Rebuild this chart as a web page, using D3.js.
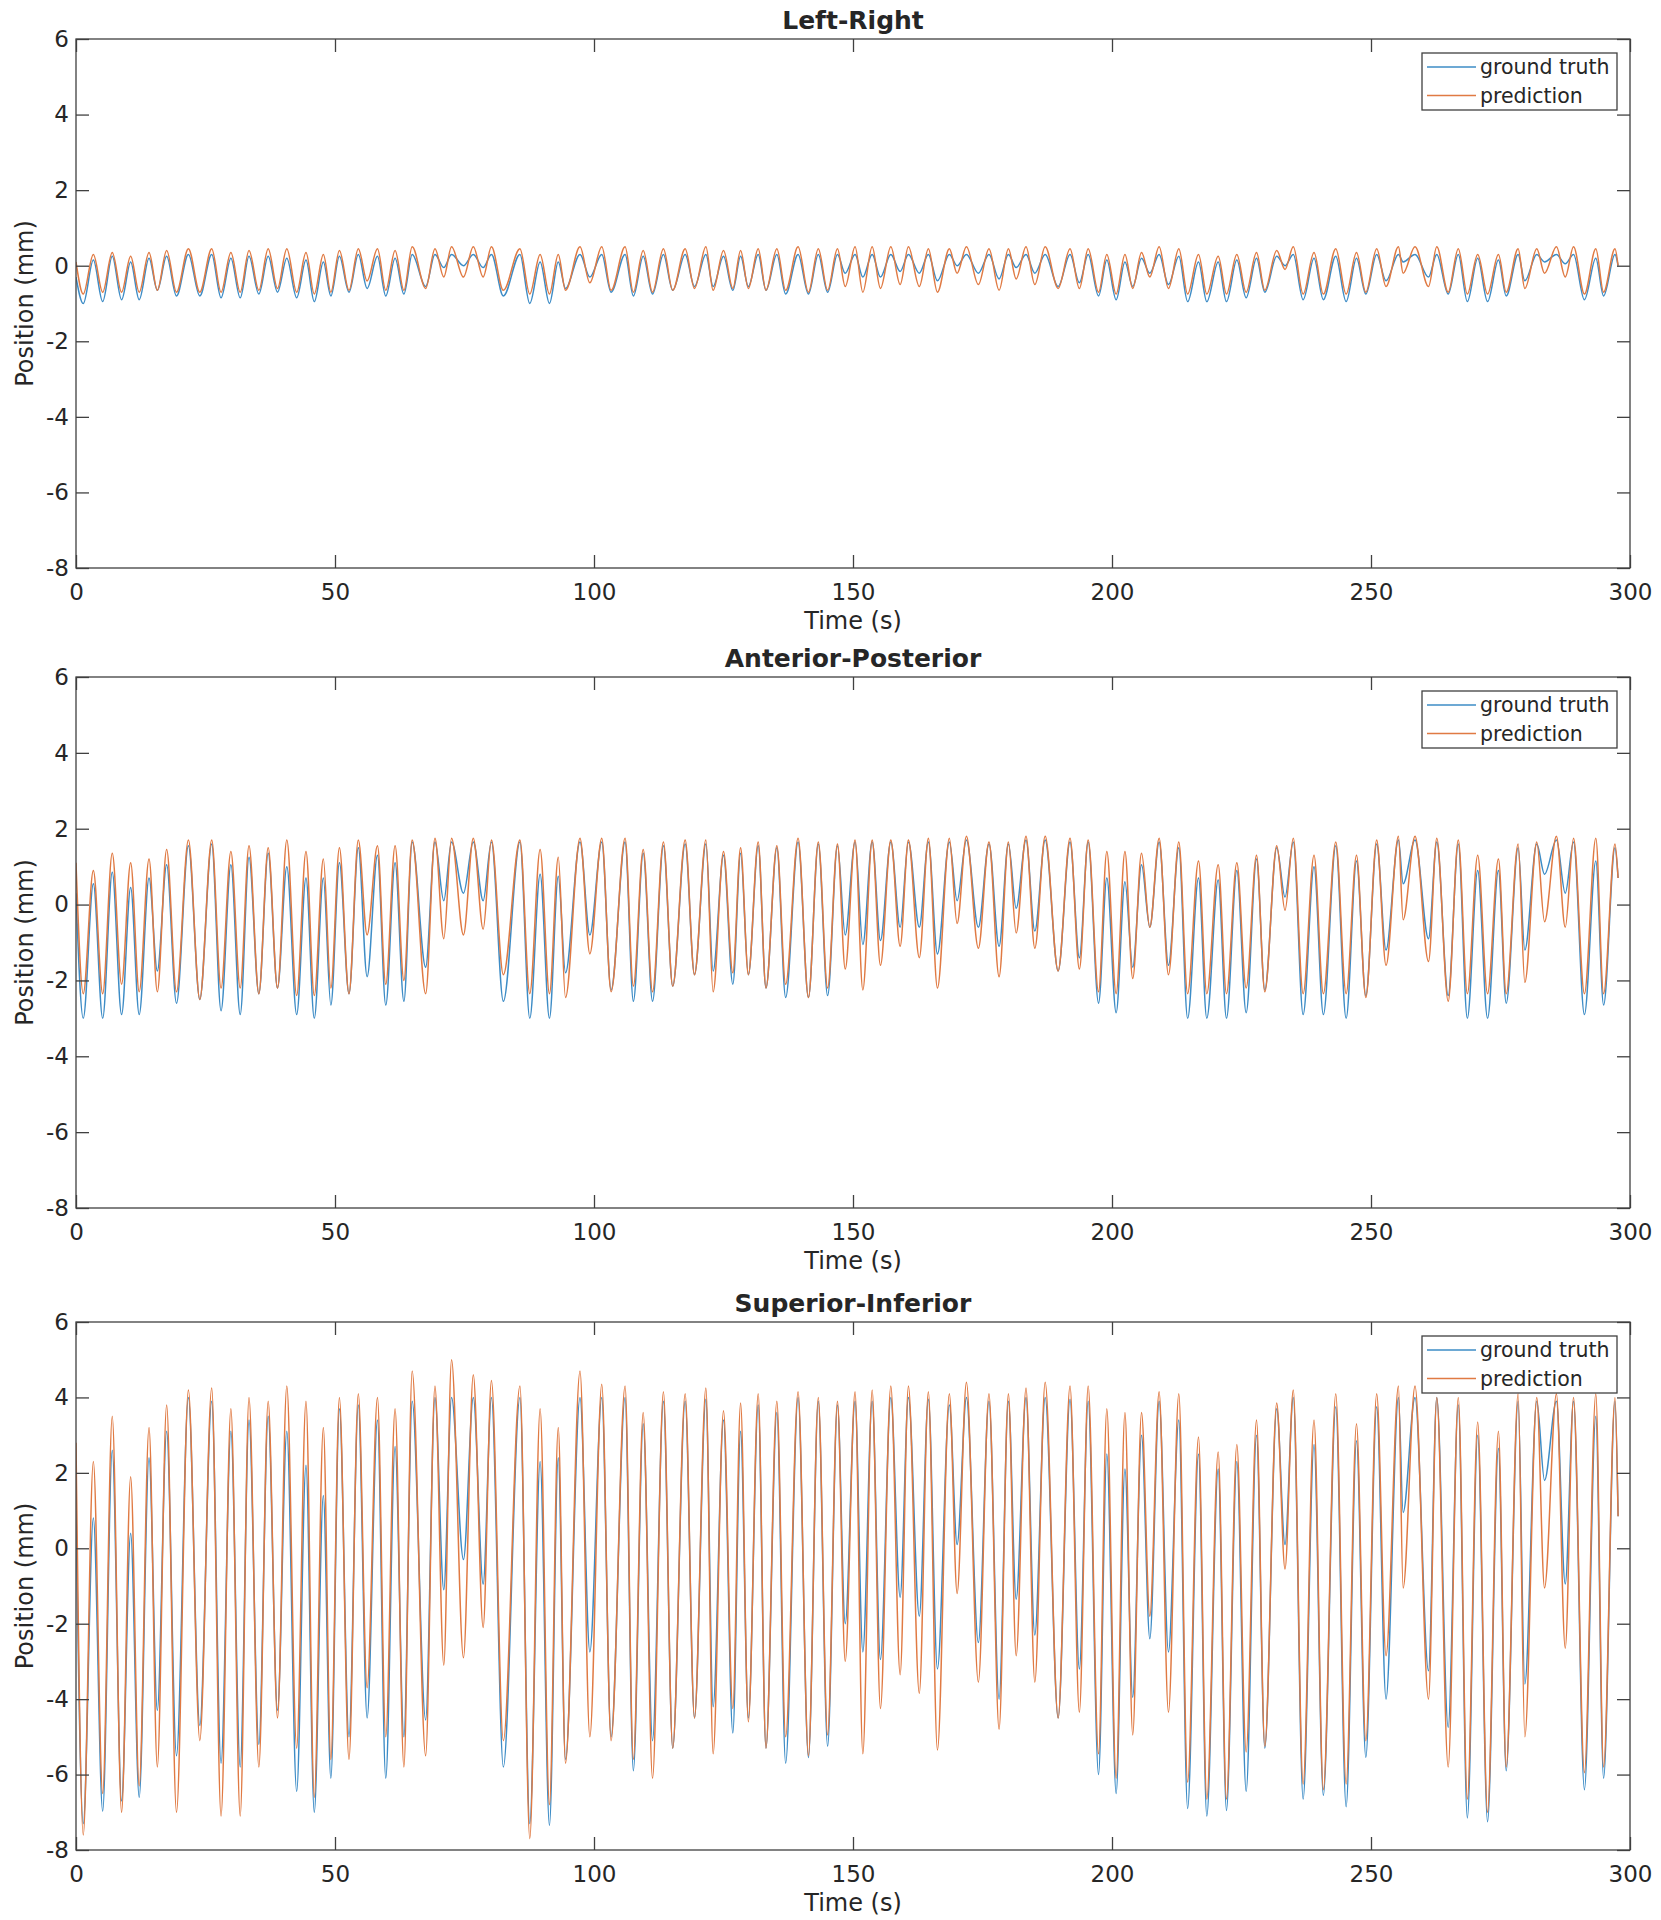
<!DOCTYPE html>
<html><head><meta charset="utf-8">
<script src="https://cdn.jsdelivr.net/npm/d3@7"></script>
<style>
body{margin:0;background:#fff}
svg{display:block}
text{font-family:"DejaVu Sans",sans-serif;fill:#262626}
</style>
</head><body>
<svg id="c" width="1661" height="1920"></svg>
<script>
// ---------- data ----------
const xTicks = [0, 50, 100, 150, 200, 250, 300];
const yTicks = [-8, -6, -4, -2, 0, 2, 4, 6];
const seriesNames = ["ground truth", "prediction"];
const panelTitles = ["Left-Right", "Anterior-Posterior", "Superior-Inferior"];

// time (s) of each breathing minimum and maximum
const troughTime = [1.4,5.15,8.8,12.2,15.7,19.4,23.9,28.0,31.7,35.3,38.9,42.6,46.0,49.2,52.7,56.2,59.8,63.3,67.5,71.0,74.8,78.6,82.5,87.6,91.4,94.5,99.2,103.3,107.6,111.3,115.2,119.4,123.0,126.8,129.8,133.2,137.0,141.4,145.1,148.5,151.9,155.3,159.1,162.8,166.3,170.1,174.2,178.2,181.5,185.1,189.6,193.7,197.4,200.8,204.0,207.3,210.9,214.6,218.3,222.1,225.9,229.5,233.4,236.9,240.8,245.2,249.0,252.9,256.2,261.1,264.9,268.6,272.5,276.1,279.7,283.5,287.5,291.2,294.9];
const peakTime = [3.35,7.0,10.55,14.1,17.5,21.7,26.2,29.9,33.4,37.1,40.7,44.4,47.75,50.85,54.5,58.2,61.6,64.9,69.3,72.5,76.7,80.2,85.7,89.6,93.1,97.3,101.5,106.0,109.5,113.4,117.6,121.6,125.0,128.3,131.7,135.3,139.4,143.3,147.0,150.4,153.7,157.3,160.7,164.55,168.6,171.9,176.25,180.0,183.4,187.1,191.9,195.4,199.0,202.5,205.7,209.1,212.9,216.7,220.5,224.1,227.9,231.8,235.0,239.0,243.2,247.2,251.1,255.3,258.5,262.7,266.85,270.6,274.6,278.4,282.0,285.8,289.1,293.4,297.1];
const startTime = 0, endTime = 297.7;

// Left-Right (mm)
const lrGtTrough = [-1.0,-0.95,-0.9,-0.9,-0.65,-0.8,-0.8,-0.85,-0.85,-0.75,-0.7,-0.85,-0.95,-0.8,-0.7,-0.6,-0.8,-0.75,-0.55,-0.05,0.0,-0.05,-0.8,-1.0,-1.0,-0.6,-0.3,-0.7,-0.8,-0.75,-0.65,-0.55,-0.55,-0.65,-0.55,-0.65,-0.75,-0.75,-0.7,-0.2,-0.3,-0.3,-0.15,-0.2,-0.4,0.0,-0.2,-0.35,-0.05,-0.2,-0.55,-0.45,-0.8,-0.9,-0.55,-0.2,-0.5,-0.95,-0.95,-0.95,-0.85,-0.7,0.0,-0.9,-0.9,-0.95,-0.75,-0.4,0.1,-0.3,-0.75,-0.95,-0.95,-0.8,-0.4,0.1,0.05,-0.9,-0.8];
const lrPrTrough = [-0.75,-0.7,-0.7,-0.7,-0.65,-0.7,-0.7,-0.7,-0.7,-0.65,-0.6,-0.7,-0.75,-0.7,-0.65,-0.4,-0.65,-0.65,-0.6,-0.3,-0.3,-0.3,-0.65,-0.75,-0.75,-0.65,-0.45,-0.65,-0.7,-0.7,-0.65,-0.6,-0.65,-0.6,-0.6,-0.65,-0.65,-0.7,-0.65,-0.55,-0.7,-0.6,-0.5,-0.55,-0.7,-0.2,-0.5,-0.65,-0.35,-0.5,-0.6,-0.6,-0.7,-0.75,-0.6,-0.3,-0.6,-0.75,-0.75,-0.75,-0.7,-0.65,-0.1,-0.75,-0.75,-0.75,-0.7,-0.55,-0.2,-0.55,-0.7,-0.75,-0.75,-0.7,-0.6,-0.2,-0.3,-0.75,-0.7];
const lrGtPeak = [0.15,0.25,0.1,0.2,0.25,0.3,0.3,0.2,0.25,0.25,0.2,0.15,0.1,0.25,0.3,0.25,0.2,0.3,0.3,0.3,0.3,0.3,0.3,0.1,0.1,0.3,0.3,0.3,0.25,0.3,0.3,0.3,0.25,0.25,0.3,0.3,0.3,0.3,0.3,0.3,0.3,0.3,0.3,0.3,0.3,0.3,0.3,0.3,0.3,0.3,0.3,0.3,0.15,0.1,0.2,0.3,0.25,0.1,0.1,0.15,0.2,0.25,0.3,0.2,0.25,0.2,0.3,0.3,0.3,0.3,0.3,0.2,0.15,0.3,0.3,0.3,0.3,0.2,0.3];
const lrPrPeak = [0.3,0.35,0.25,0.35,0.4,0.45,0.45,0.35,0.4,0.45,0.45,0.35,0.3,0.4,0.45,0.45,0.4,0.5,0.45,0.5,0.5,0.5,0.45,0.3,0.3,0.5,0.5,0.5,0.4,0.45,0.45,0.5,0.4,0.4,0.45,0.45,0.5,0.45,0.45,0.5,0.5,0.5,0.5,0.45,0.45,0.5,0.45,0.45,0.5,0.5,0.45,0.45,0.3,0.3,0.35,0.5,0.45,0.3,0.25,0.3,0.35,0.4,0.5,0.35,0.45,0.35,0.45,0.5,0.5,0.5,0.45,0.3,0.3,0.45,0.45,0.5,0.5,0.45,0.45];
const lrStart = [-0.3, 0.1], lrEnd = [0.0, 0.0];

// Anterior-Posterior (mm)
const apGtTrough = [-3.0,-3.0,-2.9,-2.9,-1.75,-2.6,-2.5,-2.8,-2.9,-2.35,-2.2,-2.9,-3.0,-2.65,-2.35,-1.9,-2.65,-2.55,-1.65,0.1,0.3,0.1,-2.55,-3.0,-3.0,-1.8,-0.8,-2.25,-2.55,-2.55,-2.15,-1.85,-1.75,-2.1,-1.85,-2.2,-2.45,-2.45,-2.4,-0.8,-1.05,-0.95,-0.6,-0.6,-1.3,0.1,-0.6,-1.1,-0.1,-0.7,-1.75,-1.4,-2.6,-2.85,-1.65,-0.6,-1.6,-3.0,-3.0,-3.0,-2.85,-2.25,0.2,-2.9,-2.9,-3.0,-2.4,-1.2,0.55,-0.9,-2.4,-3.0,-3.0,-2.6,-1.2,0.8,0.3,-2.9,-2.65];
const apPrTrough = [-2.35,-2.35,-2.1,-2.3,-2.3,-2.3,-2.5,-2.2,-2.2,-2.35,-2.2,-2.4,-2.4,-2.2,-2.35,-0.8,-2.1,-2.0,-2.35,-0.9,-0.8,-0.65,-1.85,-2.35,-2.35,-2.45,-1.3,-2.3,-2.15,-2.3,-2.15,-1.85,-2.3,-1.8,-1.85,-2.2,-2.1,-2.45,-2.2,-1.7,-2.25,-1.6,-1.1,-1.4,-2.2,-0.5,-1.15,-1.9,-0.75,-1.15,-1.75,-1.7,-2.3,-2.35,-1.95,-0.6,-1.85,-2.35,-2.35,-2.35,-2.2,-2.3,-0.15,-2.35,-2.35,-2.35,-2.45,-1.6,-0.4,-1.5,-2.55,-2.35,-2.35,-2.35,-2.05,-0.45,-0.6,-2.35,-2.35];
const apGtPeak = [0.55,0.85,0.45,0.7,1.05,1.55,1.6,1.05,1.25,1.35,1.0,0.7,0.7,1.1,1.5,1.3,1.1,1.65,1.65,1.65,1.65,1.65,1.65,0.8,0.75,1.65,1.65,1.65,1.35,1.55,1.6,1.6,1.3,1.35,1.55,1.5,1.65,1.6,1.55,1.65,1.65,1.65,1.65,1.65,1.65,1.7,1.6,1.6,1.7,1.7,1.65,1.65,0.7,0.6,1.05,1.65,1.5,0.7,0.65,0.9,1.2,1.5,1.65,1.0,1.55,1.15,1.6,1.7,1.7,1.65,1.6,0.9,0.9,1.5,1.6,1.7,1.65,1.15,1.5];
const apPrPeak = [0.9,1.35,1.1,1.2,1.45,1.7,1.7,1.4,1.55,1.5,1.7,1.4,1.2,1.5,1.7,1.55,1.55,1.7,1.75,1.75,1.75,1.7,1.7,1.45,1.25,1.75,1.75,1.75,1.45,1.65,1.7,1.7,1.4,1.5,1.65,1.55,1.75,1.65,1.6,1.7,1.7,1.7,1.7,1.75,1.75,1.8,1.65,1.65,1.8,1.8,1.75,1.7,1.4,1.4,1.35,1.75,1.65,1.15,1.05,1.1,1.3,1.55,1.75,1.3,1.65,1.3,1.7,1.8,1.8,1.75,1.7,1.3,1.2,1.6,1.65,1.8,1.75,1.75,1.6];
const apStart = [0.3, 1.1], apEnd = [0.7, 0.7];

// Superior-Inferior (mm)
const siGtTrough = [-7.3,-6.97,-6.7,-6.6,-4.3,-5.5,-4.7,-5.7,-5.8,-5.2,-4.3,-6.45,-7.0,-6.1,-5.0,-4.5,-6.1,-5.0,-4.55,-1.1,-0.3,-0.95,-5.8,-7.3,-7.35,-5.6,-2.75,-5.0,-5.9,-5.1,-5.3,-4.5,-4.2,-4.9,-4.5,-5.3,-5.7,-5.55,-5.25,-2.0,-2.75,-2.95,-1.3,-1.8,-3.2,0.1,-2.5,-4.0,-1.35,-2.3,-4.5,-3.2,-6.0,-6.5,-3.95,-2.4,-2.75,-6.9,-7.1,-6.95,-6.45,-5.3,0.1,-6.65,-6.55,-6.85,-5.55,-4.0,0.95,-3.25,-4.75,-7.15,-7.25,-5.9,-3.6,1.8,-0.95,-6.4,-6.1];
const siPrTrough = [-7.6,-6.5,-7.0,-6.3,-5.8,-7.0,-5.1,-7.1,-7.1,-5.8,-4.5,-5.3,-6.6,-5.6,-5.6,-3.7,-5.0,-5.8,-5.5,-3.1,-2.9,-2.1,-5.1,-7.7,-6.8,-5.7,-5.0,-5.1,-5.6,-6.1,-5.3,-4.5,-5.45,-4.25,-4.6,-5.3,-5.0,-5.5,-4.95,-3.0,-5.45,-4.25,-3.35,-3.85,-5.35,-1.2,-3.55,-4.8,-2.85,-3.55,-4.5,-4.35,-5.45,-6.1,-4.95,-1.8,-4.35,-6.2,-6.65,-6.65,-5.4,-5.25,-0.55,-6.25,-6.4,-6.25,-5.1,-2.85,-1.05,-4.0,-5.8,-6.65,-7.0,-5.8,-5.0,-1.05,-2.65,-5.95,-5.8];
const siGtPeak = [0.8,2.6,0.4,2.4,3.1,4.0,3.9,3.1,3.4,3.5,3.1,2.2,1.4,3.7,3.8,3.4,2.7,3.9,4.0,4.0,4.0,4.0,4.0,2.3,2.4,4.0,4.0,4.0,3.3,3.9,3.9,3.95,3.4,3.1,3.8,3.6,4.0,3.9,3.8,3.9,3.9,4.0,4.0,3.95,3.8,4.0,3.9,3.9,4.0,4.0,3.95,3.9,2.5,2.1,3.0,3.9,3.4,2.5,2.1,2.3,3.0,3.7,4.0,2.75,3.75,2.85,3.75,4.0,4.0,4.0,3.8,3.0,2.65,3.9,3.9,3.9,3.9,3.5,3.9];
const siPrPeak = [2.3,3.5,1.9,3.2,3.8,4.2,4.25,3.7,4.0,3.9,4.3,3.9,3.2,4.0,4.1,4.0,3.7,4.7,4.3,5.0,4.6,4.45,4.3,3.7,3.2,4.7,4.35,4.3,3.6,4.15,4.1,4.25,3.65,3.85,4.1,3.9,4.15,4.0,3.9,4.15,4.2,4.3,4.3,4.15,4.1,4.4,4.1,4.1,4.25,4.4,4.3,4.3,3.7,3.6,3.6,4.15,4.1,2.95,2.55,2.75,3.4,3.85,4.2,3.4,4.1,3.3,4.1,4.3,4.3,4.0,4.0,3.35,3.1,4.1,4.0,4.1,4.0,4.1,4.0];
const siStart = [1.0, 2.8], siEnd = [0.85, 0.85];

// ---------- drawing ----------
const left = 76, right = 1630;
const colors = ["#3d8cc6", "#e07a43"];
const svg = d3.select("#c");
const x = d3.scaleLinear().domain([0, 300]).range([left, right]);
const fmt = d => String(d);   // plain hyphen-minus like the reference

const panels = [
  {title: panelTitles[0], top: 39, bottom: 568,
   troughs: [lrGtTrough, lrPrTrough], peaks: [lrGtPeak, lrPrPeak], start: lrStart, end: lrEnd},
  {title: panelTitles[1], top: 677, bottom: 1208,
   troughs: [apGtTrough, apPrTrough], peaks: [apGtPeak, apPrPeak], start: apStart, end: apEnd},
  {title: panelTitles[2], top: 1322, bottom: 1850,
   troughs: [siGtTrough, siPrTrough], peaks: [siGtPeak, siPrPeak], start: siStart, end: siEnd}
];

function buildSeries(p, s) {
  const pts = [[startTime, p.start[s]]];
  for (let i = 0; i < troughTime.length; i++) {
    pts.push([troughTime[i], p.troughs[s][i]]);
    pts.push([peakTime[i], p.peaks[s][i]]);
  }
  pts.push([endTime, p.end[s]]);
  return pts;
}

panels.forEach((p, pi) => {
  const y = d3.scaleLinear().domain([-8, 6]).range([p.bottom, p.top]);
  const g = svg.append("g");
  const clipId = "clip" + pi;
  svg.append("clipPath").attr("id", clipId).append("rect")
    .attr("x", left).attr("y", p.top).attr("width", right - left).attr("height", p.bottom - p.top);

  const line = d3.line().x(d => x(d[0])).y(d => y(d[1])).curve(d3.curveMonotoneX);
  const lg = g.append("g").attr("clip-path", `url(#${clipId})`);
  [0, 1].forEach(s => {
    lg.append("path").datum(buildSeries(p, s))
      .attr("d", line).attr("fill", "none")
      .attr("stroke", colors[s]).attr("stroke-width", 1.5)
      .attr("stroke-linejoin", "round");
  });

  // axes (ticks inside, box on)
  const tickLen = 13;
  const axB = g.append("g").attr("transform", `translate(0,${p.bottom})`)
    .call(d3.axisBottom(x).tickValues(xTicks).tickSize(-tickLen).tickPadding(16).tickFormat(fmt));
  const axT = g.append("g").attr("transform", `translate(0,${p.top})`)
    .call(d3.axisTop(x).tickValues(xTicks).tickSize(-tickLen).tickFormat(""));
  const axL = g.append("g").attr("transform", `translate(${left},0)`)
    .call(d3.axisLeft(y).tickValues(yTicks).tickSize(-tickLen).tickPadding(7).tickFormat(fmt));
  const axR = g.append("g").attr("transform", `translate(${right},0)`)
    .call(d3.axisRight(y).tickValues(yTicks).tickSize(-tickLen).tickFormat(""));
  [axB, axT, axL, axR].forEach(a => {
    a.select(".domain").remove();
    a.selectAll("line").attr("stroke", "#404040").attr("stroke-width", 1.3);
    a.selectAll("text").attr("font-size", 23).attr("font-family", "DejaVu Sans").attr("fill", "#262626");
  });
  g.append("rect").attr("x", left).attr("y", p.top)
    .attr("width", right - left).attr("height", p.bottom - p.top)
    .attr("fill", "none").attr("stroke", "#404040").attr("stroke-width", 1.3);

  // title and labels
  g.append("text").attr("x", (left + right) / 2).attr("y", p.top - 10)
    .attr("text-anchor", "middle").attr("font-size", 25).attr("font-weight", "bold")
    .attr("fill", "#000").text(p.title);
  g.append("text").attr("x", (left + right) / 2).attr("y", p.bottom + 61)
    .attr("text-anchor", "middle").attr("font-size", 24).text("Time (s)");
  g.append("text").attr("transform", `translate(25,${(p.top + p.bottom) / 2}) rotate(-90)`)
    .attr("text-anchor", "middle").attr("dy", "0.35em").attr("font-size", 24).text("Position (mm)");

  // legend
  const lx = right - 208, ly = p.top + 14;
  const leg = g.append("g");
  leg.append("rect").attr("x", lx).attr("y", ly).attr("width", 195).attr("height", 57)
    .attr("fill", "#fff").attr("stroke", "#404040").attr("stroke-width", 1.3);
  seriesNames.forEach((nm, s) => {
    const cy = ly + 14 + s * 28.5;
    leg.append("line").attr("x1", lx + 5).attr("x2", lx + 54).attr("y1", cy).attr("y2", cy)
      .attr("stroke", colors[s]).attr("stroke-width", 1.5);
    leg.append("text").attr("x", lx + 58).attr("y", cy).attr("dy", "0.35em")
      .attr("font-size", 20.5).text(nm);
  });
});
</script>
</body></html>
